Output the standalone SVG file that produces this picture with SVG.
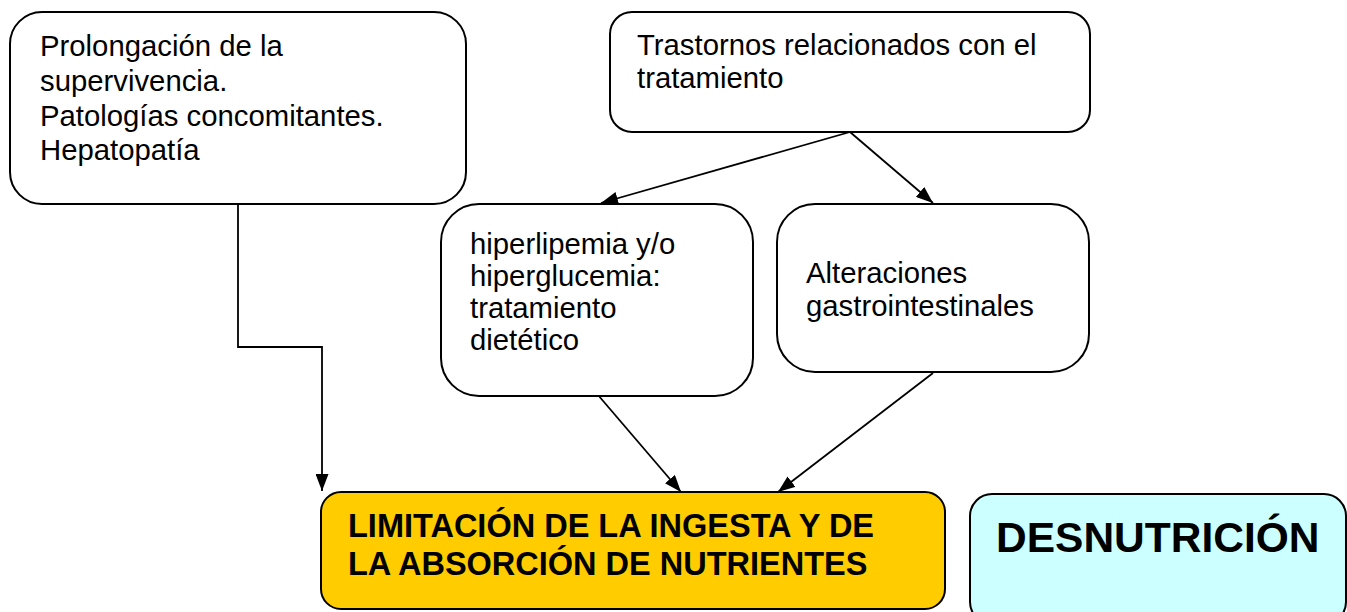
<svg xmlns="http://www.w3.org/2000/svg" width="1347" height="612" viewBox="0 0 1347 612">
<style>
.box{fill:#fff;stroke:#000;stroke-width:2}
.t{font-family:"Liberation Sans",Arial,sans-serif;font-size:29.3px;fill:#000}
.b{font-family:"Liberation Sans",Arial,sans-serif;font-weight:bold;fill:#000}
.c{fill:none;stroke:#000;stroke-width:1.8}
</style>
<defs>
<marker id="ah" viewBox="0 0 17 13" refX="17" refY="6.5" markerWidth="17" markerHeight="13" markerUnits="userSpaceOnUse" orient="auto">
<path d="M0,0 L17,6.5 L0,13 Z" fill="#000"/>
</marker>
</defs>
<rect width="1347" height="612" fill="#fff"/>
<g id="connectors">
<path class="c" d="M238,204 V347 H322 V491" marker-end="url(#ah)"/>
<path class="c" d="M850,132 L601,203" marker-end="url(#ah)"/>
<path class="c" d="M850,132 L933,203" marker-end="url(#ah)"/>
<path class="c" d="M598,395 L681,492" marker-end="url(#ah)"/>
<path class="c" d="M933,373 L778,492" marker-end="url(#ah)"/>
</g>
<g id="n1">
<rect class="box" x="10" y="12" width="456" height="192" rx="32"/>
<text class="t" x="40" y="56">Prolongación de la</text>
<text class="t" x="40" y="91">supervivencia.</text>
<text class="t" x="40" y="126">Patologías concomitantes.</text>
<text class="t" x="40" y="160">Hepatopatía</text>
</g>
<g id="n2">
<rect class="box" x="610" y="12" width="480" height="120" rx="22"/>
<text class="t" x="637" y="55">Trastornos relacionados con el</text>
<text class="t" x="637" y="88">tratamiento</text>
</g>
<g id="n3">
<rect class="box" x="441" y="204" width="312" height="192" rx="38"/>
<text class="t" x="470" y="254">hiperlipemia y/o</text>
<text class="t" x="470" y="286">hiperglucemia:</text>
<text class="t" x="470" y="318">tratamiento</text>
<text class="t" x="470" y="350">dietético</text>
</g>
<g id="n4">
<rect class="box" x="777" y="204" width="312" height="168" rx="38"/>
<text class="t" x="806" y="283">Alteraciones</text>
<text class="t" x="806" y="316">gastrointestinales</text>
</g>
<g id="n5">
<rect x="321" y="492" width="624" height="117" rx="20" fill="#FFCC00" stroke="#000" stroke-width="2"/>
<text class="b" x="348" y="537" font-size="32.5">LIMITACIÓN DE LA INGESTA Y DE</text>
<text class="b" x="348" y="575" font-size="32.5">LA ABSORCIÓN DE NUTRIENTES</text>
</g>
<g id="n6">
<rect x="970" y="494" width="376" height="130" rx="22" fill="#CCFFFF" stroke="#000" stroke-width="2"/>
<text class="b" x="996" y="552" font-size="42.5">DESNUTRICIÓN</text>
</g>
</svg>
